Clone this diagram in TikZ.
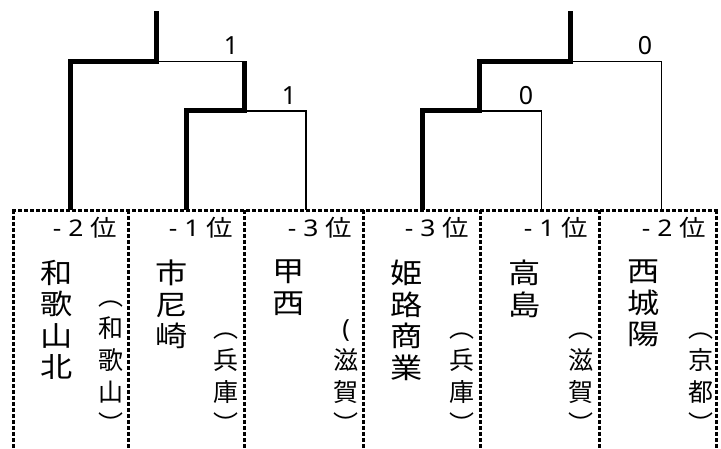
\documentclass[tikz,border=0pt]{standalone}
\usepackage{fontspec}
\setmainfont{Noto Sans}
\newfontfamily\jpfont{Noto Sans CJK JP}
\newfontfamily\jpwide[FakeStretch=1.15]{Noto Sans CJK JP}
\newfontfamily\latwide[FakeStretch=1.15]{Noto Sans}
\usetikzlibrary{positioning}

\begin{document}
\begin{tikzpicture}[x=1pt, y=-1pt,
        win/.style={line width=5pt},
        lose/.style={line width=1.4pt},
        frame/.style={line width=3pt, dash pattern=on 4pt off 2pt},
        score/.style={font=\fontsize{25}{25}\selectfont, inner sep=0pt},
        rank/.style={font=\latwide\fontsize{23}{23}\selectfont, anchor=east, inner sep=0pt},
        school/.style={font=\jpwide\fontsize{28}{31.5}\selectfont, align=center, anchor=north, inner sep=0pt},
        pref/.style={font=\jpfont\fontsize{25}{32}\selectfont, align=center, anchor=south, inner sep=0pt}]
    \useasboundingbox (0,0) rectangle (721,449);

    % dotted frame of the six columns
    \foreach \x in {13.5,128.5,244.5,363.5,480.5,599.5,716.5}
        \draw[frame] (\x,210) -- (\x,449);
    \draw[frame] (12,210.5) -- (718,210.5);

    % tops of the columns
    \coordinate (t1) at (70.5,210);
    \coordinate (t2) at (186,210);
    \coordinate (t3) at (306,210);
    \coordinate (t4) at (422,210);
    \coordinate (t5) at (541.7,210);
    \coordinate (t6) at (661.7,210);

    % joins of the bracket
    \coordinate (m1) at (244,111);
    \coordinate (m2) at (156.5,61.5);
    \coordinate (w1) at (156.5,11);
    \coordinate (m3) at (479.5,111);
    \coordinate (m4) at (570,61.5);
    \coordinate (w2) at (570,11);

    \draw[lose] (m2) -- (m1 |- m2);
    \draw[lose] (m1) -| (t3);
    \draw[lose] (m3) -| (t5);
    \draw[lose] (m4) -| (t6);
    \draw[win] (t1) |- (m2) -- (w1);
    \draw[win] (t2) |- (m1) -- (m1 |- m2);
    \draw[win] (t4) |- (m3) -- (m3 |- m4) -- (m4) -- (w2);

    \node[score] (s1) at (231,46) {1};
    \node[score] (s2) at (289,96) {1};
    \node[score] (s3) at (526,96) {0};
    \node[score] (s4) at (645,46) {0};

    % ranks
    \node[rank] (r1) at (117,228) {- 2 {\jpwide 位}};
    \node[rank] (r2) at (233,228) {- 1 {\jpwide 位}};
    \node[rank] (r3) at (352,228) {- 3 {\jpwide 位}};
    \node[rank] (r4) at (469,228) {- 3 {\jpwide 位}};
    \node[rank] (r5) at (588,228) {- 1 {\jpwide 位}};
    \node[rank] (r6) at (706,228) {- 2 {\jpwide 位}};

    % schools
    \node[school] (n1) at (57,260) {和\\歌\\山\\北};
    \node[school] (n2) at (172,260) {市\\尼\\崎};
    \node[school] (n3) at (289,260) {甲\\西};
    \node[school] (n4) at (407,260) {姫\\路\\商\\業};
    \node[school] (n5) at (525,260) {高\\島};
    \node[school] (n6) at (644,260) {西\\城\\陽};

    % prefectures
    \node[pref] (p1) at (111,434) {︵\\和\\歌\\山\\︶};
    \node[pref] (p2) at (226,434) {︵\\兵\\庫\\︶};
    \node[pref] (p3) at (346,434) {{\rmfamily(}\\滋\\賀\\︶};
    \node[pref] (p4) at (462,434) {︵\\兵\\庫\\︶};
    \node[pref] (p5) at (581,434) {︵\\滋\\賀\\︶};
    \node[pref] (p6) at (701,434) {︵\\京\\都\\︶};
\end{tikzpicture}
\end{document}
